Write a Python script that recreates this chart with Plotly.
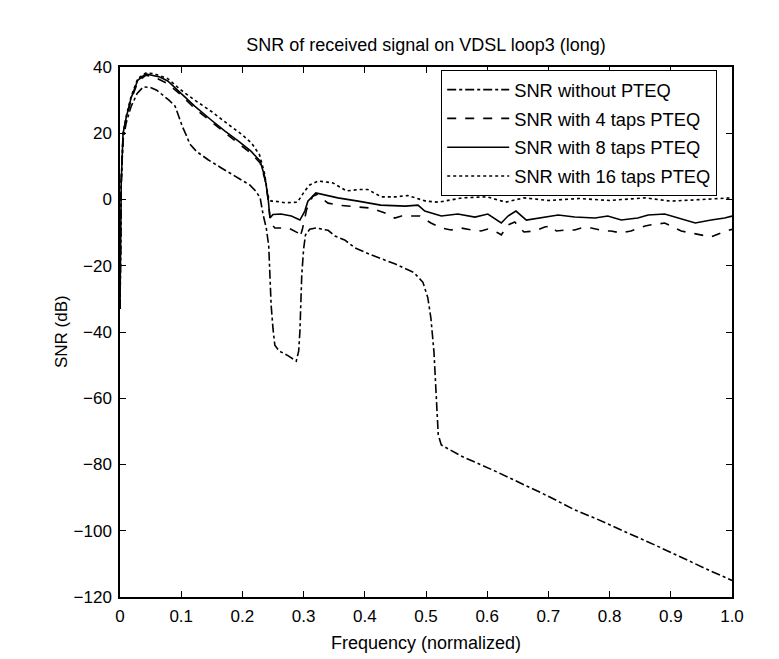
import plotly.graph_objects as go

# ---- data ----
x_none = [0, 0.002, 0.005, 0.01, 0.018, 0.028, 0.038, 0.05, 0.06, 0.07, 0.08, 0.09, 0.095, 0.102,
          0.108, 0.114, 0.125, 0.144, 0.165, 0.188, 0.212, 0.222, 0.229, 0.234, 0.239, 0.243, 0.245,
          0.247, 0.25, 0.253, 0.26, 0.275, 0.288, 0.292, 0.294, 0.295, 0.297, 0.3, 0.303, 0.31, 0.32,
          0.34, 0.351, 0.367, 0.384, 0.41, 0.45, 0.48, 0.495, 0.503, 0.508, 0.513, 0.515, 0.517, 0.52,
          0.525, 0.557, 0.613, 0.655, 0.699, 0.743, 0.776, 0.841, 0.874, 0.961, 1.0]
y_none = [-33, 5, 18, 23, 28, 32, 34, 33.8, 33, 31.5, 30, 28.2, 25.5, 22,
          19.5, 16.8, 14.5, 12, 9.6, 7.1, 4.4, 2.5, 0.5, -4.7, -8.6, -14, -25,
          -32, -39, -44, -45.7, -47.2, -48.8, -45.7, -39.7, -30.7, -22.8, -15, -10.7, -9, -8.6,
          -9.3, -11, -12.2, -14.6, -16.7, -19.5, -22, -25, -29.7, -35.8, -46, -53, -63, -71,
          -74.1, -77.4, -82, -85.6, -89.5, -93.7, -96.2, -101.6, -104.3, -111.8, -115]

x_4 = [0, 0.002, 0.005, 0.01, 0.018, 0.029, 0.042, 0.055, 0.078, 0.1, 0.122, 0.149, 0.171, 0.193,
       0.214, 0.229, 0.237, 0.242, 0.246, 0.253, 0.275, 0.291, 0.294, 0.298, 0.305, 0.315, 0.322,
       0.34, 0.356, 0.38, 0.41, 0.433, 0.449, 0.46, 0.476, 0.49, 0.508, 0.525, 0.541, 0.557, 0.575,
       0.59, 0.601, 0.618, 0.623, 0.634, 0.645, 0.66, 0.678, 0.694, 0.705, 0.713, 0.73, 0.743,
       0.754, 0.77, 0.792, 0.802, 0.819, 0.835, 0.858, 0.866, 0.89, 0.917, 0.933, 0.949, 0.966,
       0.982, 1.0]
y_4 = [-33, 5, 19.5, 24, 30, 35.5, 37.5, 37, 35, 31.5, 27.5, 23.5, 20, 17,
       14, 11, 6, 0, -7, -8.6, -8.6, -10.1, -11.5, -9, -3, 1, 1.5,
       -1.1, -1.7, -2, -2.6, -4.1, -5.6, -5, -5, -5, -7.1, -8.6, -9.2, -8.6, -9.2,
       -9.5, -8.9, -10.1, -10.7, -7.7, -6.8, -9.8, -9.5, -8.3, -8, -9.5, -9.2, -9.2,
       -8.6, -8.6, -9.5, -9.5, -10.1, -9.5, -8, -7.7, -7.1, -9.5, -10.1, -10.7, -11.3,
       -10.1, -9]

x_8 = [0, 0.002, 0.005, 0.01, 0.018, 0.029, 0.042, 0.055, 0.065, 0.078, 0.1, 0.122, 0.149, 0.171,
       0.193, 0.214, 0.229, 0.237, 0.242, 0.245, 0.25, 0.263, 0.28, 0.294, 0.302, 0.307, 0.32,
       0.335, 0.356, 0.389, 0.426, 0.466, 0.487, 0.498, 0.525, 0.552, 0.58, 0.601, 0.623, 0.634,
       0.647, 0.664, 0.688, 0.716, 0.743, 0.776, 0.797, 0.819, 0.846, 0.863, 0.89, 0.912, 0.94,
       0.966, 0.988, 1.0]
y_8 = [-33, 5, 20, 24.6, 30.6, 36, 37.9, 37.5, 37, 35.8, 32.1, 28.2, 24, 20.7,
       17.7, 14.6, 11.6, 6.5, 0.5, -5.6, -4.5, -4.4, -5, -6.2, -3.5, -0.5, 2,
       1.4, 0.5, -0.5, -1.7, -2, -1.7, -3.5, -5, -4.4, -5.3, -4.4, -7.1, -5,
       -3.5, -6.2, -5.6, -4.7, -5.3, -5.6, -5, -6.2, -5.6, -4.7, -4.4, -5.6, -7.1,
       -6.2, -5.6, -5]

x_16 = [0, 0.002, 0.005, 0.01, 0.018, 0.029, 0.042, 0.055, 0.078, 0.1, 0.122, 0.15, 0.171, 0.2,
        0.215, 0.228, 0.236, 0.242, 0.247, 0.253, 0.27, 0.29, 0.302, 0.31, 0.324, 0.348, 0.37,
        0.39, 0.405, 0.427, 0.45, 0.47, 0.5, 0.52, 0.56, 0.6, 0.63, 0.66, 0.7, 0.75, 0.8, 0.858,
        0.9, 0.95, 1.0]
y_16 = [-33, 5, 20, 25, 31, 36.5, 38.2, 38, 36.5, 33, 30, 26.5, 23.5, 19.5,
        17, 13.5, 8, 1, -0.5, -0.5, -1, -0.8, 2.6, 4.4, 5.6, 5, 2.6,
        3, 3, 0.8, 0.8, 1.2, -0.5, -0.8, 0.5, 0.8, -0.8, 0.5, -0.3, 0.3, -0.3, 0.5,
        -0.5, 0, 0.5]

names = ["SNR without PTEQ", "SNR with 4 taps PTEQ", "SNR with 8 taps PTEQ", "SNR with 16 taps PTEQ"]
x_ticks = [0, 0.1, 0.2, 0.3, 0.4, 0.5, 0.6, 0.7, 0.8, 0.9, 1.0]
x_tick_text = ["0", "0.1", "0.2", "0.3", "0.4", "0.5", "0.6", "0.7", "0.8", "0.9", "1.0"]
y_ticks = [40, 20, 0, -20, -40, -60, -80, -100, -120]

FONT = "Liberation Sans, Arial, sans-serif"

fig = go.Figure()
series = [(x_none, y_none, "dashdot"), (x_4, y_4, "dash"), (x_8, y_8, "solid"), (x_16, y_16, "dot")]
for i, ((xs, ys, dash), nm) in enumerate(zip(series, names)):
    fig.add_trace(go.Scatter(x=xs, y=ys, mode="lines", name=nm, legendgroup=f"g{i}",
                             line=dict(color="black", width=1.6, dash=dash)))

axis_common = dict(showline=True, linecolor="black", linewidth=1.5, mirror="allticks",
                   ticks="inside", ticklen=6, tickcolor="black", tickwidth=1,
                   showgrid=False, zeroline=False,
                   tickfont=dict(family=FONT, size=17, color="black"))

fig.update_layout(
    width=779, height=659,
    margin=dict(l=112, r=55, t=59, b=70),
    paper_bgcolor="white", plot_bgcolor="white",
    title=dict(text="SNR of received signal on VDSL loop3 (long)", x=(112 + 724) / 2 / 779,
               xanchor="center", y=1 - 37 / 659, yanchor="middle", yref="container",
               font=dict(family=FONT, size=18, color="black")),
    xaxis=dict(range=[0, 1], tickvals=x_ticks, ticktext=x_tick_text, ticklabelstandoff=3,
               title=dict(text="Frequency (normalized)", standoff=11,
                          font=dict(family=FONT, size=18, color="black")),
               **axis_common),
    yaxis=dict(range=[-120, 40], tickvals=y_ticks, ticklabelstandoff=3, **axis_common),
    legend=dict(x=(433 - 112) / 612, y=1 - (62 - 59) / 530, xanchor="left", yanchor="top",
                bgcolor="white", bordercolor="black", borderwidth=1.2, itemwidth=62,
                tracegroupgap=2,
                font=dict(family=FONT, size=18.3, color="black")),
    showlegend=True,
)
fig.add_annotation(text="SNR (dB)", xref="paper", yref="paper", x=0, y=0.5, xshift=-59,
                   textangle=-90, showarrow=False, xanchor="center", yanchor="middle",
                   font=dict(family=FONT, size=17, color="black"))

fig.write_html("out.html")
